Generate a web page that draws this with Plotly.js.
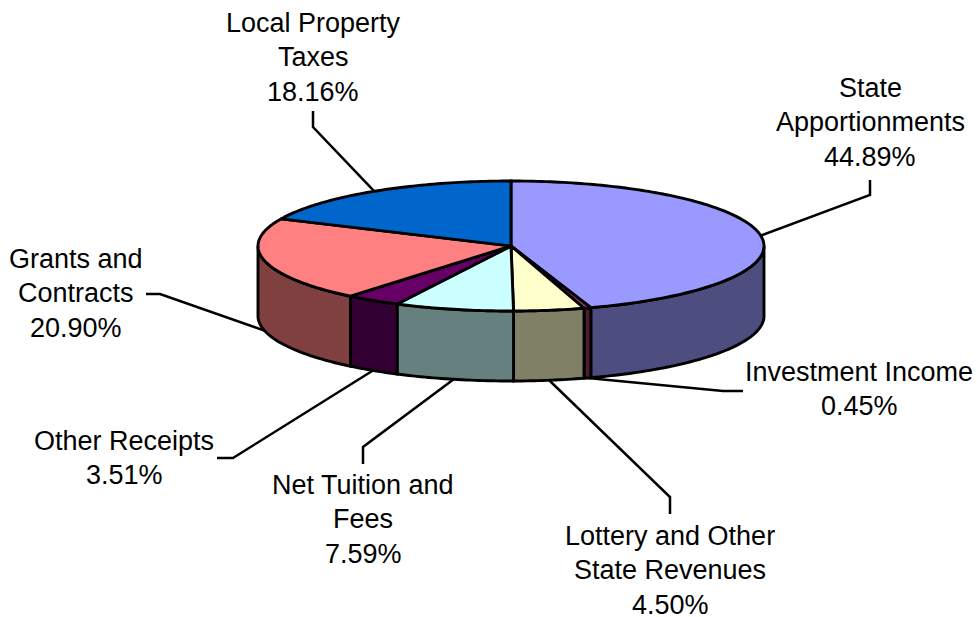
<!DOCTYPE html>
<html>
<head>
<meta charset="utf-8">
<script src="https://cdn.plot.ly/plotly-3.0.1.min.js"></script>
<style>html,body{margin:0;padding:0;background:#fff}</style>
</head>
<body>
<div id="chart" style="width:977px;height:617px"></div>
<script>
// clockwise from 12 o'clock
const categories = [
  ['State', 'Apportionments'],
  ['Investment Income'],
  ['Lottery and Other', 'State Revenues'],
  ['Net Tuition and', 'Fees'],
  ['Other Receipts'],
  ['Grants and', 'Contracts'],
  ['Local Property', 'Taxes'],
];
const shares = [44.89, 0.45, 4.50, 7.59, 3.51, 20.90, 18.16];
const topColors = ['#9999FF', '#993366', '#FFFFCC', '#CCFFFF', '#660066', '#FF8080', '#0066CC'];
const sideColors = ['#4D4D80', '#4D1A33', '#808066', '#668080', '#330033', '#804040', '#003366'];

// pie placement, in pixels of the page
const cx = 511, cy = 246, rx = 253, ry = 65, depth = 70;
// leader elbow and end, label centre x and first line y
const elbows = [[870, 195], [723, 391], [670, 497], [363, 447], [233, 458], [160, 294], [313, 127]];
const ends = [[870, 180], [743, 391], [670, 514], [363, 464], [217, 458], [146, 294], [313, 111]];
const labelX = [870, 859, 670, 363, 124, 76, 313];
const labelY = [88, 372, 536, 485, 441, 259, 23];
const lineStep = 34.4;

const rim = (deg, drop) => {
  let t = deg * Math.PI / 180;
  return [cx + rx * Math.sin(t), cy - ry * Math.cos(t) + drop];
};

function arc(from, to, drop) {
  let pts = [];
  let n = Math.max(2, Math.ceil(to - from));
  for (let i = 0; i <= n; i++) pts.push(rim(from + (to - from) * i / n, drop));
  return pts;
}

function poly(pts, fill, closed) {
  return {
    x: pts.map(p => p[0]),
    y: pts.map(p => p[1]),
    mode: 'lines',
    type: 'scatter',
    fill: closed ? 'toself' : 'none',
    fillcolor: fill,
    line: {color: '#000', width: 2.9, simplify: false},
    hoverinfo: 'skip',
    showlegend: false,
  };
}

let traces = [];
let annotations = [];
let start = 0;
let total = shares.reduce((a, b) => a + b, 0);
let wedges = shares.map((v) => {
  let w = [start, start + v / total * 360];
  start = w[1];
  return w;
});

// walls of the front half
wedges.forEach(([a, b], i) => {
  let from = Math.max(a, 90), to = Math.min(b, 270);
  if (to <= from) return;
  traces.push(poly(arc(from, to, 0).concat(arc(from, to, depth).reverse()).concat([rim(from, 0)]), sideColors[i], true));
});

// top face
wedges.forEach(([a, b], i) => {
  traces.push(poly([[cx, cy]].concat(arc(a, b, 0)).concat([[cx, cy]]), topColors[i], true));
});

// leaders start on the rim at the middle of each slice
wedges.forEach(([a, b], i) => {
  let mid = (a + b) / 2;
  let front = mid > 90 && mid < 270;
  let s = rim(mid, front ? depth : 0);
  let leader = poly([s, elbows[i], ends[i]], null, false);
  leader.line.width = 2.5;
  traces.unshift(leader);

  categories[i].concat([shares[i].toFixed(2) + '%']).forEach((line, j) => {
    annotations.push({
      x: labelX[i],
      y: labelY[i] + j * lineStep,
      text: line,
      showarrow: false,
      xanchor: 'center',
      yanchor: 'middle',
    });
  });
});

Plotly.newPlot('chart', traces, {
  width: 977,
  height: 617,
  margin: {l: 0, r: 0, t: 0, b: 0},
  paper_bgcolor: '#fff',
  plot_bgcolor: '#fff',
  showlegend: false,
  font: {family: '"Liberation Sans", Arial, sans-serif', size: 27, color: '#000'},
  xaxis: {range: [0, 977], visible: false, fixedrange: true},
  yaxis: {range: [617, 0], visible: false, fixedrange: true},
  annotations: annotations,
}, {staticPlot: true});
</script>
</body>
</html>
